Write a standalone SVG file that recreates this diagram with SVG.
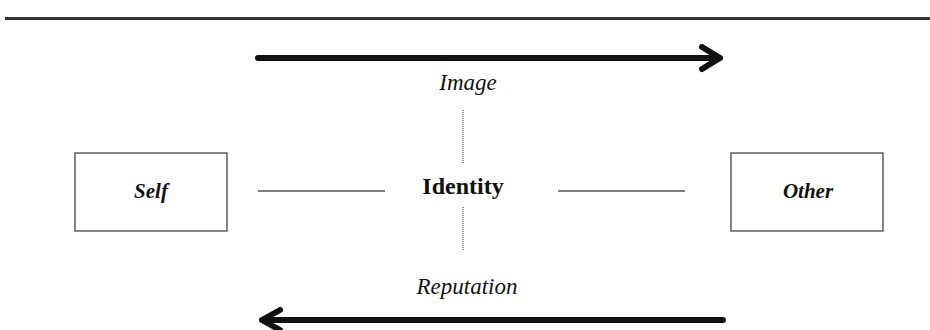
<svg xmlns="http://www.w3.org/2000/svg" width="930" height="330" viewBox="0 0 930 330">
<defs>
<style>
.t{font-family:"Liberation Serif","Times New Roman",serif;fill:#111;text-anchor:middle}
.it{font-style:italic;font-size:21px}
.lab{font-style:italic;font-size:23px}
.box{fill:#fff;stroke:#444;stroke-width:1.3}
.thin{stroke:#555;stroke-width:1.3;fill:none}
.dot{stroke:#777;stroke-width:1.5;stroke-dasharray:1 1;fill:none}
.big{stroke:#111;stroke-width:6;stroke-linecap:round;stroke-linejoin:round;fill:none}
</style>
</defs>
<rect width="930" height="330" fill="#fff"/>
<line x1="5" y1="18.5" x2="930" y2="18.5" stroke="#333" stroke-width="3"/>
<g id="self"><rect class="box" x="75" y="153" width="152" height="78"/><text class="t it" x="151" y="198" font-weight="bold">Self</text></g>
<g id="other"><rect class="box" x="731" y="153" width="152" height="78"/><text class="t it" x="808" y="198" font-weight="bold">Other</text></g>
<g id="identity"><text class="t" x="463" y="194" font-size="24" font-weight="bold">Identity</text></g>
<g id="image-label"><text class="t lab" x="468" y="90">Image</text></g>
<g id="reputation-label"><text class="t lab" x="467" y="294">Reputation</text></g>
<g id="connectors">
<line class="thin" x1="258" y1="191" x2="385" y2="191"/>
<line class="thin" x1="558" y1="191" x2="685" y2="191"/>
<line class="dot" x1="463" y1="110" x2="463" y2="163"/>
<line class="dot" x1="463" y1="207" x2="463" y2="250"/>
<path class="big" d="M258 58 H720 M702 47 L720 58 L702 69"/>
<path class="big" d="M723 320 H262 M280 310 L262 320 L280 330"/>
</g>
</svg>
